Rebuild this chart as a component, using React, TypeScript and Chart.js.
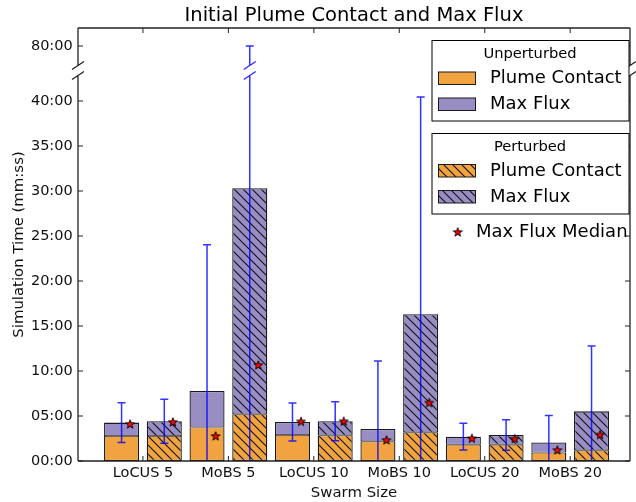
import React, { useEffect, useRef } from 'react';
import { Chart, registerables, LinearScale } from 'chart.js';

const FONT = '"DejaVu Sans", "Liberation Sans", sans-serif';

// ---- data (times in seconds) ----
const categories = ['LoCUS 5', 'MoBS 5', 'LoCUS 10', 'MoBS 10', 'LoCUS 20', 'MoBS 20'];
const unpertPlume = [167, 224, 173, 131, 109, 56];
const unpertFlux = [89, 243, 87, 83, 53, 68];
const unpertStd = [133, 975, 127, 453, 89, 180];
const unpertMedian = [247, 167, 264, 140, 151, 73];
const pertPlume = [167, 312, 171, 191, 109, 71];
const pertFlux = [98, 1506, 94, 787, 64, 260];
const pertStd = [147, 2982, 130, 1449, 102, 436];
const pertMedian = [260, 640, 265, 389, 149, 176];
const yTickValues = [0, 300, 600, 900, 1200, 1500, 1800, 2100, 2400, 4800];
const lowerLimit = 2570;
const upperLimits = [4670, 4920];
const xLimits = [-0.76, 5.7];
const medianOffsets = [-0.15, 0.35];

const ORANGE = '#f1a340';
const PURPLE = '#998ec3';
const ERR = 'rgba(0,0,255,0.8)';
const EDGE = '#1a1a1a';
const GAP_PX = 10;

function fmt(v: number) {
  const m = Math.floor(v / 60);
  const s = Math.round(v % 60);
  return String(m).padStart(2, '0') + ':' + String(s).padStart(2, '0');
}

class BrokenScale extends LinearScale {
  static id = 'brokenLinear';
  static defaults = {};
  k() {
    return (this.bottom - this.top - GAP_PX) / (lowerLimit + upperLimits[1] - upperLimits[0]);
  }
  lowTop() {
    return this.bottom - lowerLimit * this.k();
  }
  highBottom() {
    return this.top + (upperLimits[1] - upperLimits[0]) * this.k();
  }
  getPixelForValue(value: number) {
    const k = this.k();
    if (value <= lowerLimit) return this.bottom - value * k;
    if (value >= upperLimits[0]) return this.top + (upperLimits[1] - value) * k;
    const a = this.lowTop();
    const b = this.highBottom();
    return a + ((value - lowerLimit) / (upperLimits[0] - lowerLimit)) * (b - a);
  }
  getValueForPixel(pixel: number) {
    const k = this.k();
    const a = this.lowTop();
    const b = this.highBottom();
    if (pixel >= a) return (this.bottom - pixel) / k;
    if (pixel <= b) return upperLimits[1] - (pixel - this.top) / k;
    return lowerLimit + ((a - pixel) / (a - b)) * (upperLimits[0] - lowerLimit);
  }
}

Chart.register(...registerables, BrokenScale);

function makeHatch(color: string) {
  const s = 9;
  const c = document.createElement('canvas');
  c.width = s;
  c.height = s;
  const g = c.getContext('2d')!;
  g.fillStyle = color;
  g.fillRect(0, 0, s, s);
  g.strokeStyle = '#111';
  g.lineWidth = 1.1;
  g.beginPath();
  g.moveTo(-1, -1);
  g.lineTo(s + 1, s + 1);
  g.moveTo(-2, s - 2);
  g.lineTo(2, s + 2);
  g.moveTo(s - 2, -2);
  g.lineTo(s + 2, 2);
  g.stroke();
  return g.createPattern(c, 'repeat')!;
}

function makeStar() {
  const c = document.createElement('canvas');
  c.width = 12;
  c.height = 12;
  const g = c.getContext('2d')!;
  const cx = 6, cy = 6.4, R = 4.7, r = 1.9;
  g.beginPath();
  for (let i = 0; i < 10; i++) {
    const ang = -Math.PI / 2 + (i * Math.PI) / 5;
    const rad = i % 2 === 0 ? R : r;
    g.lineTo(cx + rad * Math.cos(ang), cy + rad * Math.sin(ang));
  }
  g.closePath();
  g.fillStyle = '#ff0000';
  g.fill();
  g.lineWidth = 0.9;
  g.strokeStyle = '#000';
  g.stroke();
  return c;
}

function slash(ctx: CanvasRenderingContext2D, x: number, y: number) {
  ctx.moveTo(x - 6, y + 4);
  ctx.lineTo(x + 6, y - 4);
}

export default function App() {
  const ref = useRef<HTMLCanvasElement | null>(null);

  useEffect(() => {
    const canvas = ref.current!;
    const hatchO = makeHatch(ORANGE);
    const hatchP = makeHatch(PURPLE);
    const star = makeStar();

    const groups = [
      { fluxIndex: 1, plume: unpertPlume, flux: unpertFlux, std: unpertStd },
      { fluxIndex: 3, plume: pertPlume, flux: pertFlux, std: pertStd },
    ];

    const drawErrorBars = (chart: any) => {
      const ctx = chart.ctx as CanvasRenderingContext2D;
      const ys = chart.scales.y;
      const a = chart.chartArea;
      ctx.save();
      ctx.beginPath();
      ctx.rect(a.left, a.top, a.right - a.left, a.bottom - a.top);
      ctx.clip();
      ctx.strokeStyle = ERR;
      ctx.lineWidth = 1.5;
      groups.forEach((g) => {
        const meta = chart.getDatasetMeta(g.fluxIndex);
        meta.data.forEach((bar: any, i: number) => {
          const x = bar.x;
          const mean = g.plume[i] + g.flux[i];
          const lo = mean - g.std[i];
          const hi = mean + g.std[i];
          const pLo = ys.getPixelForValue(lo);
          const pHi = ys.getPixelForValue(hi);
          ctx.beginPath();
          if (hi > lowerLimit) {
            const lt = ys.lowTop();
            const hb = ys.highBottom();
            ctx.moveTo(x, pLo);
            ctx.lineTo(x, lt);
            ctx.moveTo(x, hb);
            ctx.lineTo(x, pHi);
            slash(ctx, x, lt);
            slash(ctx, x, hb);
          } else {
            ctx.moveTo(x, pLo);
            ctx.lineTo(x, pHi);
          }
          ctx.moveTo(x - 4, pHi);
          ctx.lineTo(x + 4, pHi);
          if (lo >= 0) {
            ctx.moveTo(x - 4, pLo);
            ctx.lineTo(x + 4, pLo);
          }
          ctx.stroke();
        });
      });
      ctx.restore();
    };

    const drawFrame = (chart: any) => {
      const ctx = chart.ctx as CanvasRenderingContext2D;
      const ys = chart.scales.y;
      const xs = chart.scales.x;
      const { left: L, right: R, top: T, bottom: B } = chart.chartArea;
      const lt = ys.lowTop();
      const hb = ys.highBottom();
      ctx.save();
      ctx.strokeStyle = '#222';
      ctx.lineWidth = 1.3;
      ctx.beginPath();
      ctx.moveTo(L, T); ctx.lineTo(R, T);
      ctx.moveTo(L, B); ctx.lineTo(R, B);
      [L, R].forEach((x) => {
        ctx.moveTo(x, T); ctx.lineTo(x, hb);
        ctx.moveTo(x, lt); ctx.lineTo(x, B);
        slash(ctx, x, hb);
        slash(ctx, x, lt);
      });
      ctx.stroke();
      ctx.lineWidth = 1;
      ctx.beginPath();
      ys.ticks.forEach((t: any) => {
        const p = ys.getPixelForValue(t.value);
        ctx.moveTo(L, p); ctx.lineTo(L + 5, p);
        ctx.moveTo(R, p); ctx.lineTo(R - 5, p);
      });
      xs.ticks.forEach((t: any) => {
        const p = xs.getPixelForValue(t.value);
        ctx.moveTo(p, B); ctx.lineTo(p, B - 5);
        ctx.moveTo(p, T); ctx.lineTo(p, T + 5);
      });
      ctx.stroke();
      ctx.restore();
    };

    const drawLegend = (chart: any) => {
      const ctx = chart.ctx as CanvasRenderingContext2D;
      ctx.save();
      ctx.lineWidth = 1;
      ctx.strokeStyle = '#000';
      const box = (x: number, y: number, w: number, h: number) => {
        ctx.fillStyle = '#fff';
        ctx.fillRect(x, y, w, h);
        ctx.strokeRect(x, y, w, h);
      };
      box(432, 40.5, 197, 80.5);
      box(432, 133.5, 197, 80.5);
      ctx.fillStyle = '#000';
      ctx.textBaseline = 'middle';
      ctx.textAlign = 'center';
      ctx.font = '14.7px ' + FONT;
      ctx.fillText('Unperturbed', 530, 54.5);
      ctx.fillText('Perturbed', 530, 147);
      const patch = (y: number, fill: any) => {
        ctx.fillStyle = fill;
        ctx.fillRect(438.5, y, 37, 12.5);
        ctx.strokeStyle = EDGE;
        ctx.strokeRect(438.5, y, 37, 12.5);
      };
      patch(72, ORANGE);
      patch(98, PURPLE);
      patch(164.5, hatchO);
      patch(190.5, hatchP);
      ctx.fillStyle = '#000';
      ctx.textAlign = 'left';
      ctx.font = '18px ' + FONT;
      ctx.fillText('Plume Contact', 490, 78.5);
      ctx.fillText('Max Flux', 490, 104.5);
      ctx.fillText('Plume Contact', 490, 171);
      ctx.fillText('Max Flux', 490, 197);
      ctx.drawImage(star, 457.7 - 6, 232 - 6);
      ctx.fillText('Max Flux Median', 476, 232.5);
      ctx.restore();
    };

    const customPlugin = {
      id: 'customDraw',
      beforeDatasetDraw(chart: any, args: any) {
        if (args.meta.type === 'scatter') drawErrorBars(chart);
      },
      afterDraw(chart: any) {
        drawFrame(chart);
        drawLegend(chart);
      },
    };

    const tickFont = { family: FONT, size: 14.5, lineHeight: 1.2 };
    const barCommon = {
      borderColor: EDGE,
      borderSkipped: false,
      barPercentage: 0.82,
      categoryPercentage: 1.0,
      order: 2,
    };
    const plumeBorder = { top: 0.8, left: 1.3, right: 1.3, bottom: 1.3 };
    const fluxBorder = { top: 1.3, left: 1.3, right: 1.3, bottom: 0.8 };

    const chart = new Chart(canvas, {
      type: 'bar',
      data: {
        datasets: [
          { ...barCommon, label: 'Unperturbed Plume Contact', stack: 'unpert', data: unpertPlume.map((v, i) => ({ x: i, y: v })), backgroundColor: ORANGE, borderWidth: plumeBorder },
          { ...barCommon, label: 'Unperturbed Max Flux', stack: 'unpert', data: unpertFlux.map((v, i) => ({ x: i, y: v })), backgroundColor: PURPLE, borderWidth: fluxBorder },
          { ...barCommon, label: 'Perturbed Plume Contact', stack: 'pert', data: pertPlume.map((v, i) => ({ x: i, y: v })), backgroundColor: hatchO, borderWidth: plumeBorder },
          { ...barCommon, label: 'Perturbed Max Flux', stack: 'pert', data: pertFlux.map((v, i) => ({ x: i, y: v })), backgroundColor: hatchP, borderWidth: fluxBorder },
          {
            type: 'scatter',
            label: 'Max Flux Median',
            order: 0,
            data: [
              ...unpertMedian.map((v, i) => ({ x: i + medianOffsets[0], y: v })),
              ...pertMedian.map((v, i) => ({ x: i + medianOffsets[1], y: v })),
            ],
            pointStyle: star,
            pointRadius: 5,
            pointHoverRadius: 5,
          } as any,
        ],
      },
      options: {
        responsive: false,
        devicePixelRatio: 1,
        animation: false,
        events: [],
        layout: { padding: { left: 0, right: 1, top: 0, bottom: 0 } },
        plugins: {
          legend: { display: false },
          tooltip: { enabled: false },
          title: {
            display: true,
            text: 'Initial Plume Contact and Max Flux',
            fullSize: false,
            color: '#000',
            font: { family: FONT, size: 19.5, weight: 'normal', lineHeight: 1.2 },
            padding: { top: 4, bottom: 0.6 },
          },
        },
        scales: {
          x: {
            type: 'linear',
            min: xLimits[0],
            max: xLimits[1],
            offset: false,
            bounds: 'data',
            grid: { display: false, drawTicks: false },
            border: { display: false },
            afterBuildTicks: (s: any) => {
              s.ticks = categories.map((_, i) => ({ value: i }));
            },
            afterFit: (s: any) => {
              s.height = 41;
            },
            ticks: {
              autoSkip: false,
              maxRotation: 0,
              padding: 3.3,
              color: '#111',
              font: tickFont,
              callback: (v: any) => categories[Math.round(Number(v))] ?? '',
            },
            title: {
              display: true,
              text: 'Swarm Size',
              color: '#111',
              font: { family: FONT, size: 14.9, lineHeight: 1.2 },
              padding: { top: 0, bottom: 0 },
            },
          },
          y: {
            type: 'brokenLinear',
            min: 0,
            max: upperLimits[1],
            bounds: 'data',
            grid: { display: false, drawTicks: false },
            border: { display: false },
            afterBuildTicks: (s: any) => {
              s.ticks = yTickValues.map((v) => ({ value: v }));
            },
            afterFit: (s: any) => {
              s.width = 78;
            },
            ticks: {
              autoSkip: false,
              padding: 5.3,
              color: '#111',
              font: tickFont,
              callback: (v: any) => fmt(Number(v)),
            },
            title: {
              display: true,
              text: 'Simulation Time (mm:ss)',
              color: '#111',
              font: { family: FONT, size: 14.9, lineHeight: 1.2 },
              padding: { top: 10.5, bottom: 0 },
            },
          } as any,
        },
      },
      plugins: [customPlugin],
    } as any);

    return () => chart.destroy();
  }, []);

  return (
    <div style={{ position: 'fixed', left: 0, top: 0, width: 636, height: 502, background: '#fff' }}>
      <canvas ref={ref} width={636} height={502} style={{ display: 'block', width: 636, height: 502 }} />
    </div>
  );
}
